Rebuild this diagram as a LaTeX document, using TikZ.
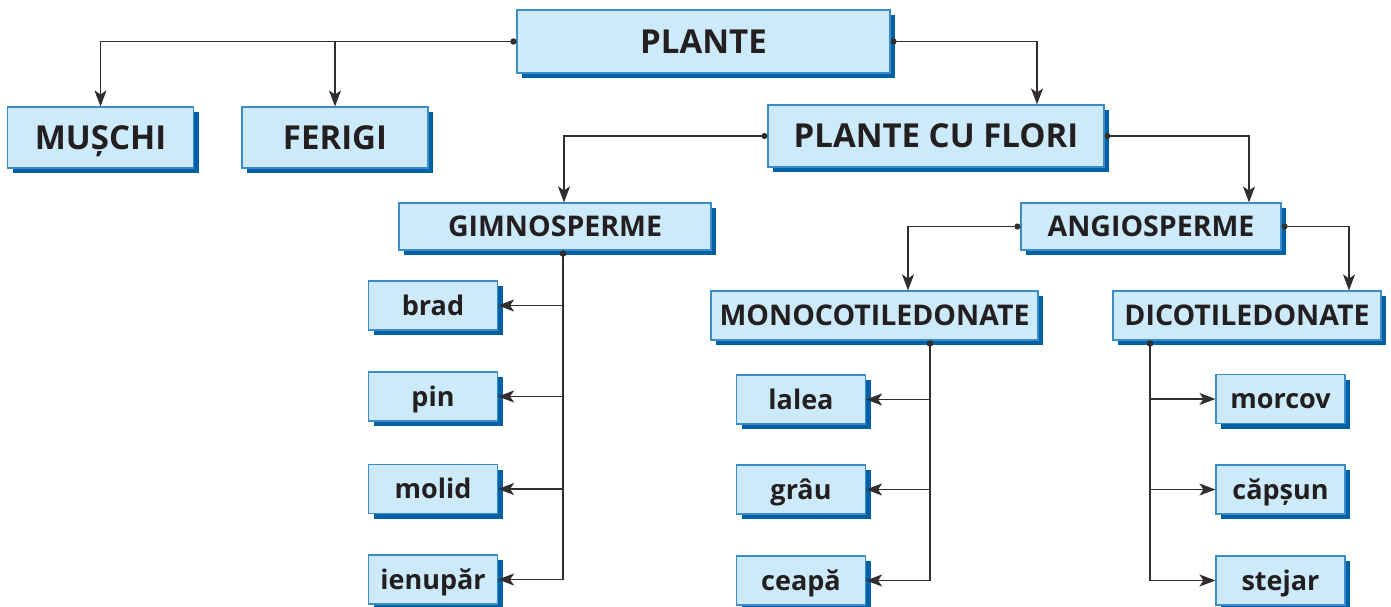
\documentclass[tikz,border=0pt]{standalone}
\usepackage{fontspec}
\setmainfont{Open Sans}
\usetikzlibrary{arrows.meta,shadows}
\definecolor{fond}{RGB}{204,234,250}
\definecolor{contur}{RGB}{60,140,200}
\definecolor{umbra}{RGB}{0,98,164}
\definecolor{linie}{RGB}{50,46,46}
\definecolor{scris}{RGB}{35,31,32}

\begin{document}
\begin{tikzpicture}[x=1pt,y=-1pt,
  cutie/.style={draw=contur,line width=1.1pt,fill=fond,text=scris,inner sep=0pt,
    text depth=0pt,
    general shadow={fill=umbra,shadow xshift=5pt,shadow yshift=-5pt}},
  nivel1/.style={cutie,font=\bfseries\fontsize{33}{33}\selectfont,text height=23.5pt},
  nivel2/.style={cutie,font=\bfseries\fontsize{28.5}{28.5}\selectfont,text height=20.3pt,minimum height=47pt},
  frunza/.style={cutie,font=\bfseries\fontsize{27}{27}\selectfont,text height=19.5pt,minimum width=129pt,minimum height=49pt},
  leg/.style={draw=linie,line width=1.3pt,{Circle[length=6pt]}-{Stealth[length=16pt,width=12pt,inset=4pt]}}]
  \useasboundingbox (0,0) rectangle (1391,607);
  % primul nivel
  \node[nivel1,minimum width=373pt,minimum height=63pt] (plante) at (703.5,41.5) {PLANTE};
  \node[nivel1,minimum width=186pt,minimum height=61pt] (muschi) at (100.5,137.5) {MUȘCHI};
  \node[nivel1,minimum width=186pt,minimum height=61pt] (ferigi) at (335,137.5) {FERIGI};
  \node[nivel1,minimum width=336pt,minimum height=62pt] (flori) at (936,136) {PLANTE CU FLORI};
  % al doilea nivel
  \node[nivel2,minimum width=312pt] (gimno) at (555,226.5) {GIMNOSPERME};
  \node[nivel2,minimum width=260pt] (angio) at (1151,226.5) {ANGIOSPERME};
  \node[nivel2,minimum width=327pt,minimum height=49pt] (mono) at (874.5,315.5) {MONOCOTILEDONATE};
  \node[nivel2,minimum width=268pt,minimum height=49pt] (dico) at (1247,315.5) {DICOTILEDONATE};
  % exemple
  \node[frunza] (brad) at (433,305.5) {brad};
  \node[frunza] (pin) at (433,396.5) {pin};
  \node[frunza] (molid) at (433,489) {molid};
  \node[frunza] (ienupar) at (433,579.5) {ienupăr};
  \node[frunza] (lalea) at (801,399.5) {lalea};
  \node[frunza] (grau) at (801,489.5) {grâu};
  \node[frunza] (ceapa) at (801,580.5) {ceapă};
  \node[frunza] (morcov) at (1280.5,399) {morcov};
  \node[frunza] (capsun) at (1280.5,489.5) {căpșun};
  \node[frunza] (stejar) at (1280.5,580.5) {stejar};
  % legaturi
  \draw[leg] (plante.west) -| (muschi.north);
  \draw[leg] (plante.west) -| (ferigi.north);
  \draw[leg] (plante.east) -| ([xshift=101pt]flori.north);
  \draw[leg] (flori.west) -| ([xshift=9pt]gimno.north);
  \draw[leg] (flori.east) -| ([xshift=98pt]angio.north);
  \draw[leg] (angio.west) -| ([xshift=33.5pt]mono.north);
  \draw[leg] (angio.east) -| ([xshift=102pt]dico.north);
  \foreach \f in {brad,pin,molid,ienupar}
    \draw[leg] ([xshift=8pt]gimno.south) |- (\f.east);
  \foreach \f in {lalea,grau,ceapa}
    \draw[leg] ([xshift=55.5pt]mono.south) |- (\f.east);
  \foreach \f in {morcov,capsun,stejar}
    \draw[leg] ([xshift=-97pt]dico.south) |- (\f.west);
\end{tikzpicture}
\end{document}
